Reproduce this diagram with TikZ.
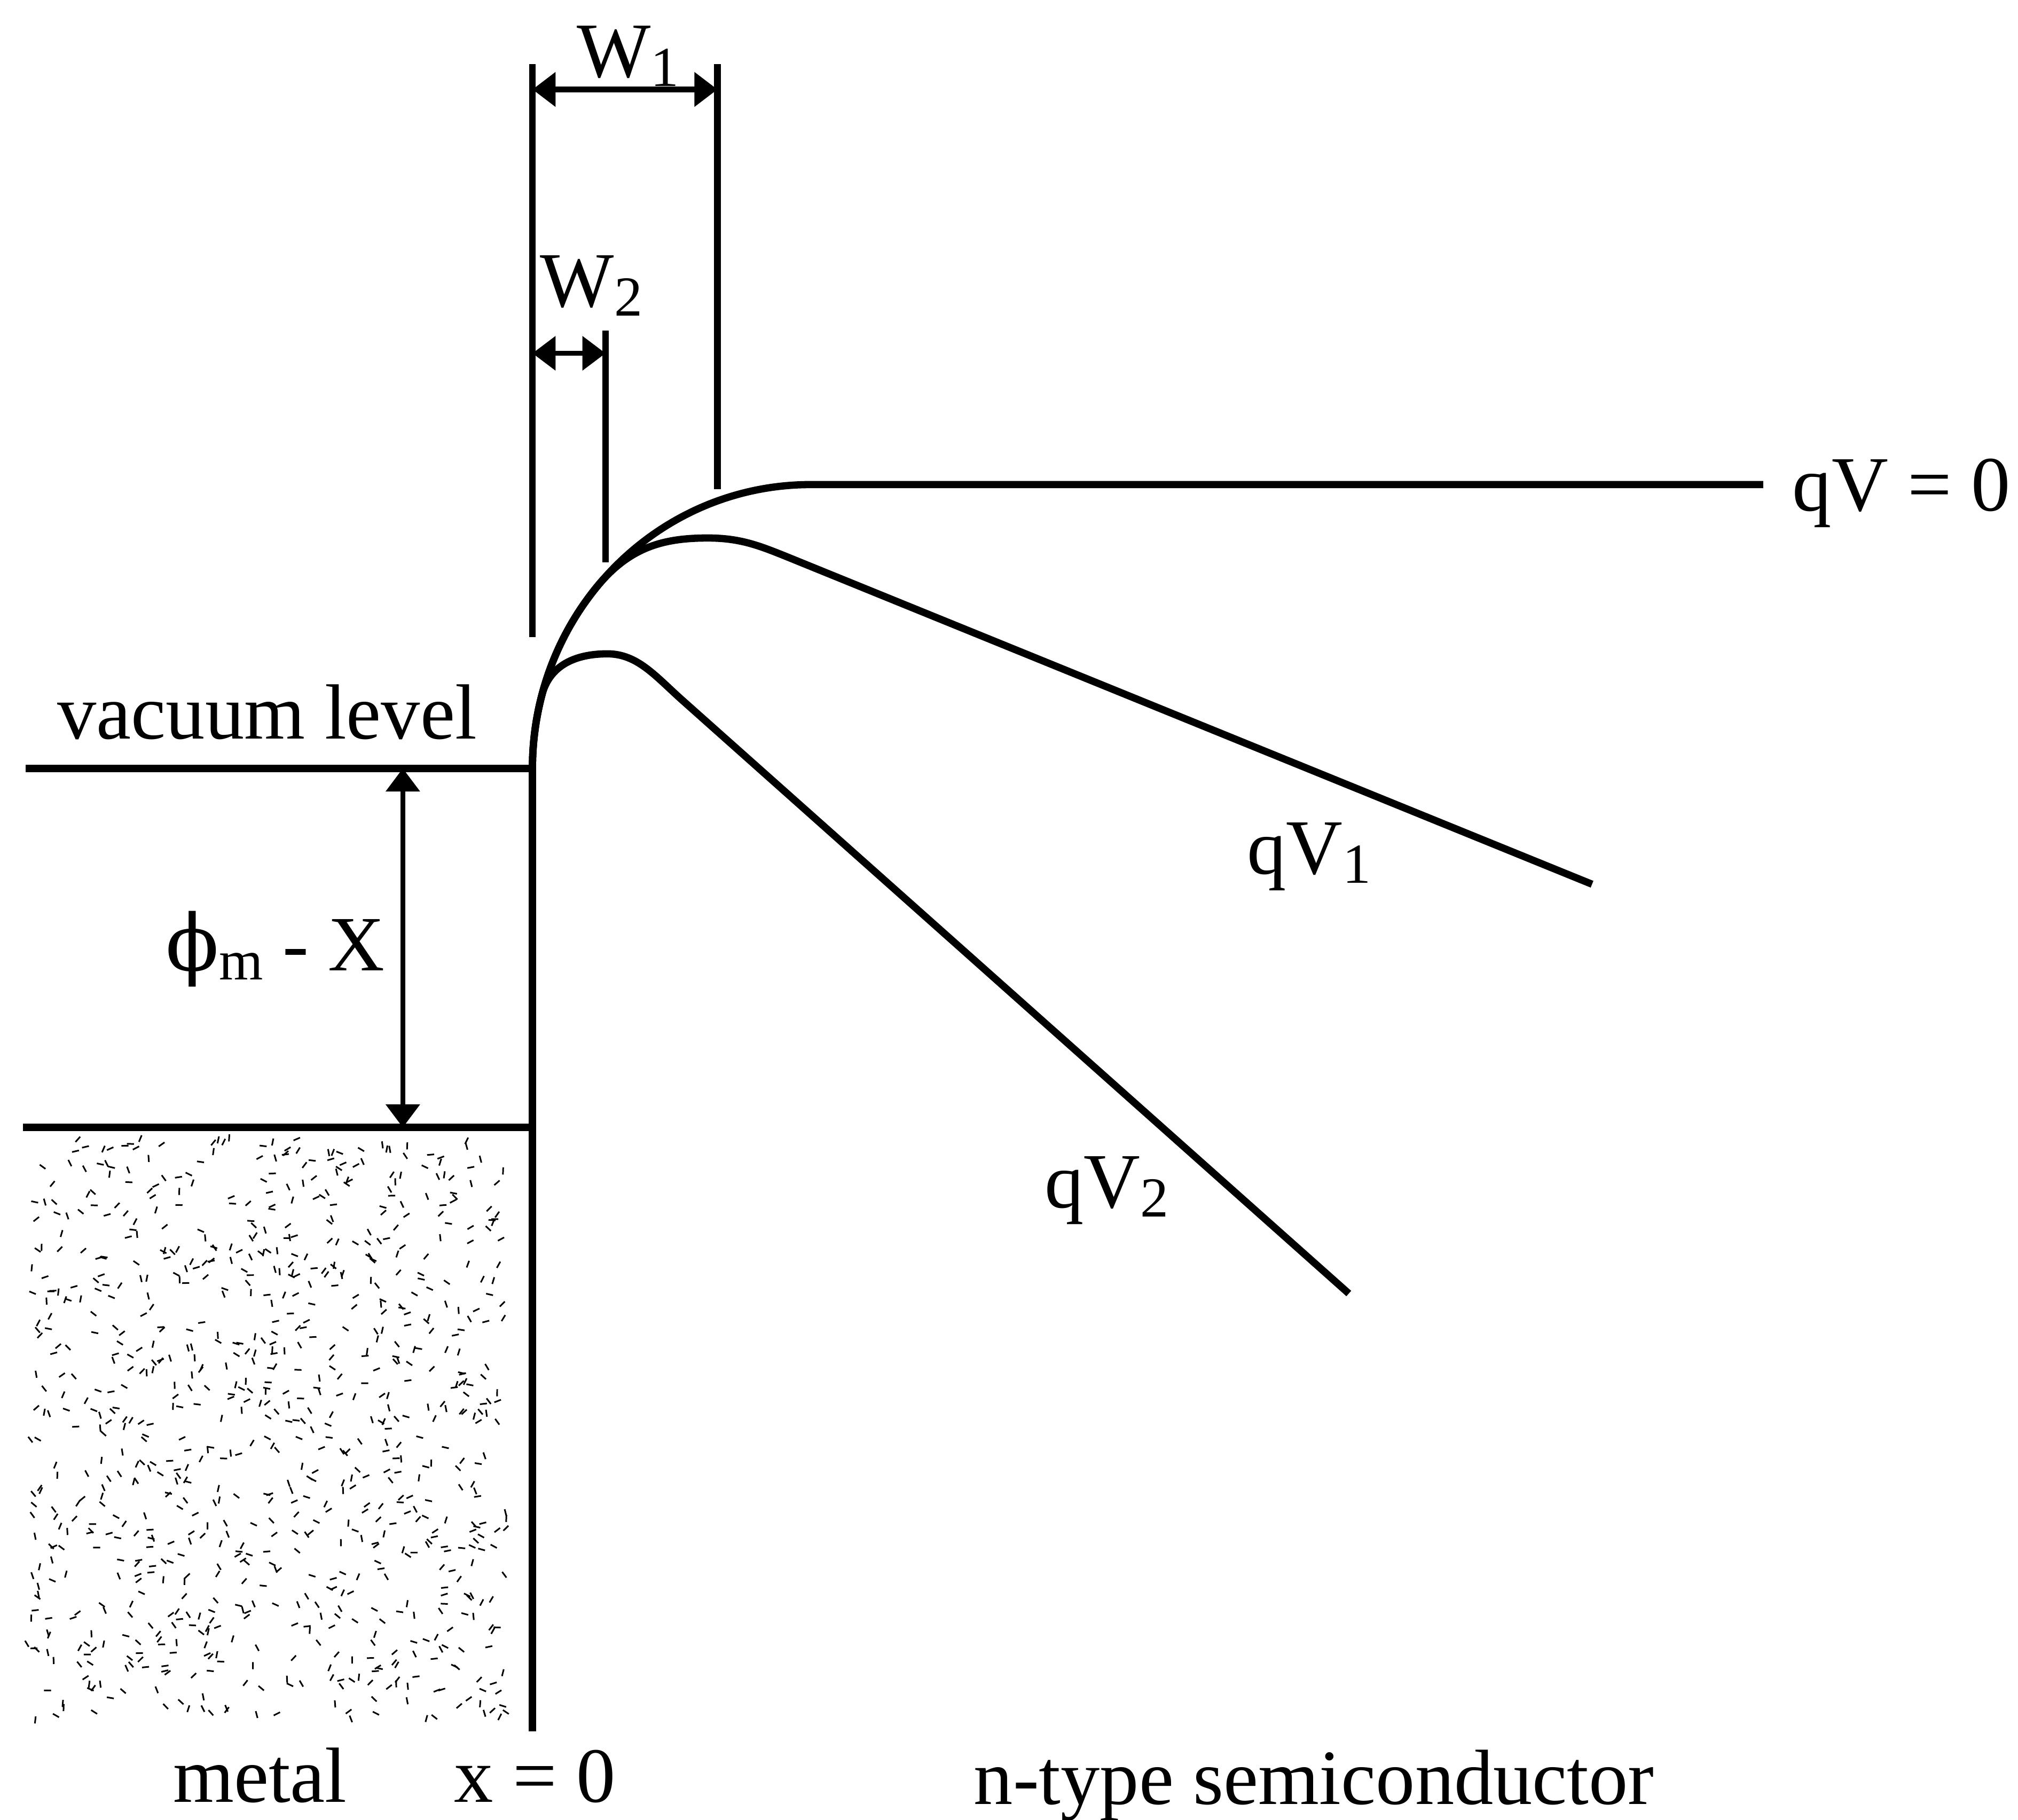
\documentclass[tikz,border=0pt]{standalone}
\usepackage{fontspec}
\setmainfont{Liberation Serif}
\newfontfamily\grkfont{DejaVu Serif}
\usetikzlibrary{arrows.meta}

\newcommand{\lowsub}[1]{\raisebox{-2pt}{\fontsize{12.5}{12.5}\selectfont #1}}

\begin{document}
\begin{tikzpicture}[
        band/.style={line width=1.6pt},
        guide/.style={line width=1.5pt},
        dimline/.style={line width=1.3pt, {Triangle[length=1.8mm,width=2.6mm]}-{Triangle[length=1.8mm,width=2.6mm]}},
        lbl/.style={inner sep=0pt, anchor=base, font=\fontsize{17.3}{20}\selectfont},
        speck/.style={line width=0.35pt},
        ]
    \useasboundingbox (0,-14.1366) rectangle (15.68,0);

    % fixed points
    \coordinate (vacL) at (0.20,-5.97);
    \coordinate (o)    at (4.137,-5.97);
    \coordinate (metL) at (0.18,-8.76);
    \coordinate (metR) at (4.137,-8.76);
    \coordinate (bot)  at (4.137,-13.45);
    \coordinate (phiT) at (3.13,-5.97);
    \coordinate (phiB) at (3.13,-8.76);

    % metal stipple
    \pgfmathsetseed{11}
    \foreach \i in {1,...,900}{
        \pgfmathsetmacro{\px}{0.22+3.72*rnd}
        \pgfmathsetmacro{\py}{-8.86-4.50*rnd}
        \pgfmathsetmacro{\pa}{360*rnd}
        \draw[speck] (\px,\py) -- ++(\pa:0.055);
    }

    \draw[band] (vacL) -- (o);
    \draw[band] (metL) -- (metR);
    \draw[band] (o) -- (bot);
    \draw[dimline, line width=1pt] (phiT) -- (phiB);

    % depletion widths
    \coordinate (g0t) at (4.137,-0.50);
    \coordinate (g0b) at (4.137,-4.95);
    \coordinate (g1t) at (5.575,-0.50);
    \coordinate (g1b) at (5.575,-3.80);
    \coordinate (g2t) at (4.705,-2.57);
    \coordinate (g2b) at (4.705,-4.37);
    \draw[guide] (g0t) -- (g0b);
    \draw[guide] (g1t) -- (g1b);
    \draw[guide] (g2t) -- (g2b);
    \coordinate (w1a) at (4.137,-0.695);
    \coordinate (w1b) at (5.575,-0.695);
    \coordinate (w2a) at (4.137,-2.745);
    \coordinate (w2b) at (4.705,-2.745);
    \draw[dimline] (w1a) -- (w1b);
    \draw[dimline, line width=1.1pt] (w2a) -- (w2b);

    % band curves
    \coordinate (end0) at (13.70,-3.765);
    \coordinate (pk1)  at (5.50,-4.18);
    \coordinate (end1) at (12.37,-6.87);
    \coordinate (pk2)  at (4.72,-5.08);
    \coordinate (end2) at (10.48,-10.05);
    \draw[band] (o) arc[start angle=180, end angle=90, x radius=2.163, y radius=2.205] -- (end0);
    \draw[band] (o) arc[start angle=180, end angle=140, x radius=2.163, y radius=2.205]
        .. controls +(0.25,0.30) and (5.15,-4.18) .. (pk1)
        .. controls (5.75,-4.18) and (5.90,-4.24) .. (6.10,-4.32) -- (end1);
    \draw[band] (o) arc[start angle=180, end angle=165, x radius=2.163, y radius=2.205]
        .. controls +(0.06,0.23) and (4.47,-5.08) .. (pk2)
        .. controls (4.95,-5.08) and (5.09,-5.25) .. (5.29,-5.43) -- (end2);

    % labels
    \node[lbl] at(2.075,-5.74) (vac) {vacuum level};
    \node[lbl] at(2.14,-7.54) (phi) {{\grkfont ϕ}\lowsub{m} - X};
    \node[lbl] at(4.88,-0.60) (w1) {W\lowsub{1}};
    \node[lbl] at(4.595,-2.384) (w2) {W\lowsub{2}};
    \node[lbl] at(14.775,-3.97) (qv0) {qV = 0};
    \node[lbl] at(10.17,-6.79) (qv1) {qV\lowsub{1}};
    \node[lbl] at(8.60,-9.385) (qv2) {qV\lowsub{2}};
    \node[lbl] at(2.02,-14.00) (met) {metal};
    \node[lbl] at(4.155,-14.00) (x0) {x = 0};
    \node[lbl] at(10.21,-14.02) (semi) {n-type semiconductor};

\end{tikzpicture}
\end{document}
